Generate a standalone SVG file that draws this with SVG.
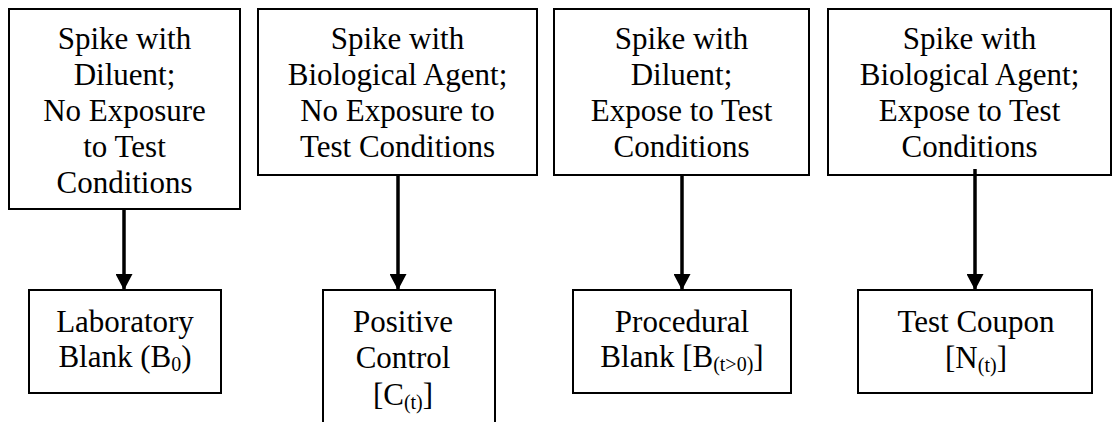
<svg xmlns="http://www.w3.org/2000/svg" width="1113" height="422" viewBox="0 0 1113 422">
<style>
.box{fill:#fff;stroke:#000;stroke-width:2}
.t{font-family:'Liberation Serif',serif;font-size:31px;fill:#000;text-anchor:middle}
.sub{font-size:20px}
.conn line{stroke:#000;stroke-width:3.5}
</style>
<defs>
<marker id="ah" markerUnits="userSpaceOnUse" markerWidth="18" markerHeight="17" refX="16" refY="8.5" orient="auto">
<path d="M0,0 L16,8.5 L0,17 Z" fill="#000"/>
</marker>
</defs>
<rect width="1113" height="422" fill="#fff"/>
<g id="top1">
<rect class="box" x="9" y="9" width="231" height="200"/>
<text class="t" x="124.5" y="49">Spike with</text>
<text class="t" x="124.5" y="85">Diluent;</text>
<text class="t" x="124.5" y="121">No Exposure</text>
<text class="t" x="124.5" y="157">to Test</text>
<text class="t" x="124.5" y="193">Conditions</text>
</g>
<g id="top2">
<rect class="box" x="258" y="9" width="279" height="166"/>
<text class="t" x="397.5" y="49">Spike with</text>
<text class="t" x="397.5" y="85">Biological Agent;</text>
<text class="t" x="397.5" y="121">No Exposure to</text>
<text class="t" x="397.5" y="157">Test Conditions</text>
</g>
<g id="top3">
<rect class="box" x="554" y="9" width="255" height="166"/>
<text class="t" x="681.5" y="49">Spike with</text>
<text class="t" x="681.5" y="85">Diluent;</text>
<text class="t" x="681.5" y="121">Expose to Test</text>
<text class="t" x="681.5" y="157">Conditions</text>
</g>
<g id="top4">
<rect class="box" x="828" y="9" width="283" height="166"/>
<text class="t" x="969.5" y="49">Spike with</text>
<text class="t" x="969.5" y="85">Biological Agent;</text>
<text class="t" x="969.5" y="121">Expose to Test</text>
<text class="t" x="969.5" y="157">Conditions</text>
</g>
<g id="bot1">
<rect class="box" x="29" y="290" width="192" height="103"/>
<text class="t" x="125" y="332">Laboratory</text>
<text class="t" x="125" y="367">Blank (B<tspan class="sub" dy="4">0</tspan><tspan dy="-4">)</tspan></text>
</g>
<g id="bot2">
<rect class="box" x="323" y="290" width="172" height="140"/>
<text class="t" x="403" y="332">Positive</text>
<text class="t" x="403" y="368">Control</text>
<text class="t" x="403" y="405">[C<tspan class="sub" dy="4">(t)</tspan><tspan dy="-4">]</tspan></text>
</g>
<g id="bot3">
<rect class="box" x="573" y="290" width="218" height="103"/>
<text class="t" x="682" y="332">Procedural</text>
<text class="t" x="682" y="367">Blank [B<tspan class="sub" dy="4">(t&gt;0)</tspan><tspan dy="-4">]</tspan></text>
</g>
<g id="bot4">
<rect class="box" x="858" y="290" width="234" height="103"/>
<text class="t" x="976" y="332">Test Coupon</text>
<text class="t" x="976" y="368">[N<tspan class="sub" dy="4">(t)</tspan><tspan dy="-4">]</tspan></text>
</g>
<g id="connectors" class="conn">
<line x1="124" y1="209" x2="124" y2="290" marker-end="url(#ah)"/>
<line x1="398" y1="175" x2="398" y2="290" marker-end="url(#ah)"/>
<line x1="682" y1="175" x2="682" y2="290" marker-end="url(#ah)"/>
<line x1="975" y1="169" x2="975" y2="290" marker-end="url(#ah)"/>
</g>
</svg>
